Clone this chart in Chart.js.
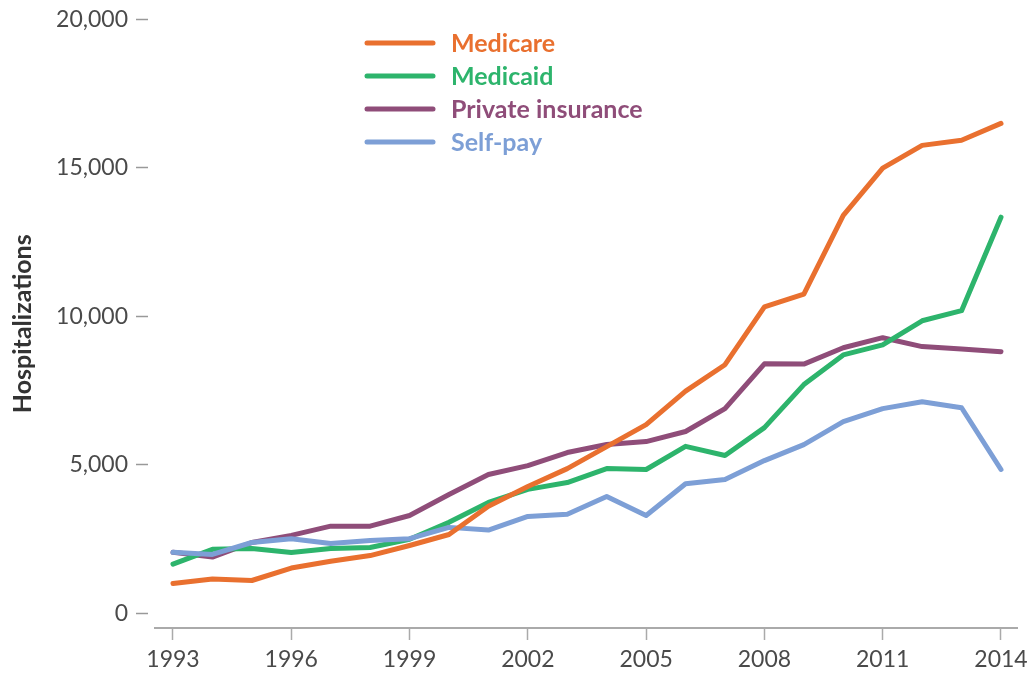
<!DOCTYPE html>
<html>
<head>
<meta charset="utf-8">
<script src="https://cdn.jsdelivr.net/npm/chart.js@4.4.1/dist/chart.umd.min.js"></script>
<style>
  html, body { margin: 0; padding: 0; background: #fff; }
  #wrap { width: 1029px; height: 679px; }
</style>
</head>
<body>
<div id="wrap"><canvas id="myChart" width="1029" height="679"></canvas></div>
<script>
// hospitalizations per year, by payer
var years = [1993, 1994, 1995, 1996, 1997, 1998, 1999, 2000, 2001, 2002, 2003,
  2004, 2005, 2006, 2007, 2008, 2009, 2010, 2011, 2012, 2013, 2014];
var medicare = [1000, 1150, 1100, 1520, 1750, 1940, 2280, 2650, 3600, 4270, 4870,
  5610, 6350, 7480, 8370, 10320, 10750, 13400, 14990, 15760, 15930, 16500];
var medicaid = [1650, 2150, 2180, 2040, 2180, 2210, 2490, 3060, 3730, 4170, 4400,
  4870, 4840, 5620, 5310, 6250, 7700, 8700, 9040, 9850, 10190, 13340];
var privateIns = [2050, 1890, 2380, 2620, 2930, 2930, 3290, 4000, 4670, 4970, 5410,
  5680, 5780, 6120, 6890, 8400, 8390, 8940, 9280, 8980, 8900, 8810];
var selfPay = [2050, 1980, 2380, 2510, 2350, 2450, 2510, 2890, 2800, 3260, 3330,
  3930, 3290, 4360, 4500, 5140, 5680, 6450, 6890, 7120, 6920, 4840];

var xTicks = [1993, 1996, 1999, 2002, 2005, 2008, 2011, 2014];
var yTicks = [0, 5000, 10000, 15000, 20000];

var colors = {
  medicare: "#e9702f",
  medicaid: "#2db46c",
  privateIns: "#8f4d79",
  selfPay: "#7d9fd6"
};

function toPoints(values) {
  var pts = [];
  for (var i = 0; i < years.length; i++) {
    pts.push({ x: years[i], y: values[i] });
  }
  return pts;
}

function makeSet(label, values, color, order) {
  return {
    label: label,
    data: toPoints(values),
    borderColor: color,
    backgroundColor: color,
    borderWidth: 5,
    pointRadius: 0,
    tension: 0,
    fill: false,
    borderCapStyle: "round",
    borderJoinStyle: "round",
    order: order
  };
}

// legend drawn by hand, column of colored line + colored bold text
var legendPlugin = {
  id: "sideLegend",
  afterDraw: function(chart) {
    var ctx = chart.ctx;
    var sets = chart.data.datasets;
    var x0 = 365, y0 = 43, step = 33;
    ctx.save();
    ctx.font = "bold 25px Lato";
    ctx.textBaseline = "middle";
    ctx.lineCap = "round";
    for (var i = 0; i < sets.length; i++) {
      var y = y0 + i * step;
      ctx.strokeStyle = sets[i].borderColor;
      ctx.lineWidth = 5;
      ctx.beginPath();
      ctx.moveTo(x0 + 2, y);
      ctx.lineTo(x0 + 68, y);
      ctx.stroke();
      ctx.fillStyle = sets[i].borderColor;
      ctx.fillText(sets[i].label, 451, y + 1);
    }
    ctx.restore();
  }
};

var tickFont = { family: "Lato", size: 23, weight: "400", lineHeight: 1.0 };

var ctx = document.getElementById("myChart").getContext("2d");
var myChart = new Chart(ctx, {
  type: "line",
  data: {
    datasets: [
      makeSet("Medicare", medicare, colors.medicare, 0),
      makeSet("Medicaid", medicaid, colors.medicaid, 2),
      makeSet("Private insurance", privateIns, colors.privateIns, 3),
      makeSet("Self-pay", selfPay, colors.selfPay, 1)
    ]
  },
  options: {
    responsive: false,
    animation: false,
    layout: { padding: { top: 5, right: 0, bottom: 0, left: 0 } },
    plugins: {
      legend: { display: false },
      tooltip: { enabled: false }
    },
    scales: {
      x: {
        type: "linear",
        min: 1992.544,
        max: 2014.406,
        afterBuildTicks: function(scale) {
          scale.ticks = xTicks.map(function(v) { return { value: v }; });
        },
        afterFit: function(scale) {
          scale.paddingRight = 12;
        },
        grid: {
          drawOnChartArea: false,
          drawTicks: true,
          tickLength: 12,
          tickColor: "#aaaaaa",
          tickWidth: 1.5
        },
        border: { display: true, color: "#aaaaaa", width: 2 },
        ticks: {
          padding: 8,
          color: "#4a4a4a",
          font: tickFont,
          maxRotation: 0,
          autoSkip: false,
          callback: function(v) { return String(v); }
        }
      },
      y: {
        min: -500,
        max: 20000,
        afterBuildTicks: function(scale) {
          scale.ticks = yTicks.map(function(v) { return { value: v }; });
        },
        afterFit: function(scale) {
          scale.width = 155;
        },
        grid: {
          drawOnChartArea: false,
          drawTicks: true,
          tickLength: 19,
          tickColor: "#999999",
          tickWidth: 1.5,
          tickBorderDash: [12, 30]
        },
        border: { display: false },
        ticks: {
          padding: 8,
          color: "#4a4a4a",
          font: tickFont,
          callback: function(v) { return v.toLocaleString("en-US"); }
        },
        title: {
          display: true,
          text: "Hospitalizations",
          color: "#333",
          font: { family: "Lato", size: 25, weight: "bold" },
          padding: { top: 8, bottom: 0 }
        }
      }
    }
  },
  plugins: [legendPlugin]
});
</script>
</body>
</html>
